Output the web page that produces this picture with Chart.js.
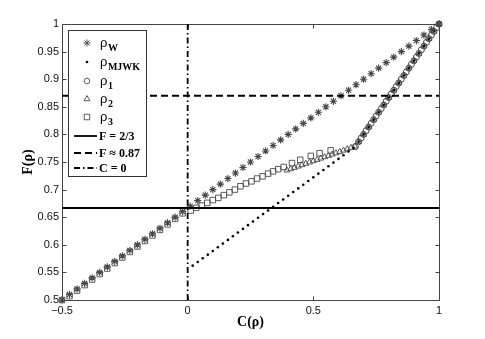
<!DOCTYPE html>
<html>
<head>
<meta charset="utf-8">
<script src="https://cdn.jsdelivr.net/npm/chart.js@4.4.1/dist/chart.umd.min.js"></script>
<style>
  html, body { margin: 0; padding: 0; background: #fff; }
  #wrap { width: 485px; height: 339px; }
</style>
</head>
<body>
<div id="wrap"><canvas id="grafico" width="485" height="339"></canvas></div>
<script>
// rho_W (stars)
const wC = [-0.5, -0.47, -0.44, -0.41, -0.38, -0.35, -0.32, -0.29, -0.26, -0.23, -0.2, -0.17, -0.14, -0.11, -0.08, -0.05, -0.02,
  0.01, 0.04, 0.07, 0.1, 0.13, 0.16, 0.19, 0.22, 0.25, 0.28, 0.31, 0.34, 0.37, 0.4, 0.43, 0.46, 0.49, 0.52, 0.55, 0.58,
  0.61, 0.64, 0.67, 0.7, 0.73, 0.76, 0.79, 0.82, 0.85, 0.88, 0.91, 0.94, 0.97, 1.0];
const wF = [0.5, 0.51, 0.52, 0.53, 0.54, 0.55, 0.56, 0.57, 0.58, 0.59, 0.6, 0.61, 0.62, 0.63, 0.64, 0.65, 0.66,
  0.67, 0.68, 0.69, 0.7, 0.71, 0.72, 0.73, 0.74, 0.75, 0.76, 0.77, 0.78, 0.79, 0.8, 0.81, 0.82, 0.83, 0.84, 0.85, 0.86,
  0.87, 0.88, 0.89, 0.9, 0.91, 0.92, 0.93, 0.94, 0.95, 0.96, 0.97, 0.98, 0.99, 1.0];

// rho_MJWK (dots)
const mC = [0.02, 0.04, 0.06, 0.08, 0.1, 0.12, 0.14, 0.16, 0.18, 0.2, 0.22, 0.24, 0.26, 0.28, 0.3, 0.32, 0.34, 0.36,
  0.38, 0.4, 0.42, 0.44, 0.46, 0.48, 0.5, 0.52, 0.54, 0.56, 0.58, 0.6, 0.62, 0.64, 0.66,
  0.68, 0.7, 0.72, 0.74, 0.76, 0.78, 0.8, 0.82, 0.84, 0.86, 0.88, 0.9, 0.92, 0.94, 0.96, 0.98, 1.0];
const mF = [0.5622, 0.5689, 0.5756, 0.5822, 0.5889, 0.5956, 0.6022, 0.6089, 0.6156, 0.6222, 0.6289, 0.6356, 0.6422,
  0.6489, 0.6556, 0.6622, 0.6689, 0.6756, 0.6822, 0.6889, 0.6956, 0.7022, 0.7089, 0.7156, 0.7222, 0.7289, 0.7356,
  0.7422, 0.7489, 0.7556, 0.7622, 0.7689, 0.7756,
  0.7867, 0.8, 0.8133, 0.8267, 0.84, 0.8533, 0.8667, 0.88, 0.8933, 0.9067, 0.92, 0.9333, 0.9467, 0.96, 0.9733, 0.9867, 1.0];

// rho_1 (circles)
const r1C = [0.667, 0.68, 0.69, 0.7, 0.71, 0.72, 0.73, 0.74, 0.75, 0.76, 0.77, 0.78, 0.79, 0.8, 0.81, 0.82, 0.83,
  0.84, 0.85, 0.86, 0.87, 0.88, 0.89, 0.9, 0.91, 0.92, 0.93, 0.94, 0.95, 0.96, 0.97, 0.98, 0.99, 1.0];
const r1F = [0.7778, 0.7867, 0.7933, 0.8, 0.8067, 0.8133, 0.82, 0.8267, 0.8333, 0.84, 0.8467, 0.8533, 0.86, 0.8667,
  0.8733, 0.88, 0.8867, 0.8933, 0.9, 0.9067, 0.9133, 0.92, 0.9267, 0.9333, 0.94, 0.9467, 0.9533, 0.96, 0.9667,
  0.9733, 0.98, 0.9867, 0.9933, 1.0];

// rho_2 (triangles)
const r2C = [0.395, 0.41, 0.425, 0.44, 0.455, 0.47, 0.485, 0.5, 0.515, 0.53, 0.545, 0.56, 0.575, 0.59, 0.605, 0.62,
  0.635, 0.65, 0.665, 0.68, 0.7, 0.72, 0.74, 0.76, 0.78, 0.8, 0.82, 0.84, 0.86, 0.88, 0.9, 0.92, 0.94, 0.96, 0.98, 1.0];
const r2F = [0.735, 0.7374, 0.7398, 0.7422, 0.7446, 0.747, 0.7494, 0.7518, 0.7542, 0.7566, 0.759, 0.7614, 0.7638,
  0.7662, 0.7686, 0.771, 0.7734, 0.7758, 0.7782, 0.7867, 0.8, 0.8133, 0.8267, 0.84, 0.8533, 0.8667, 0.88, 0.8933,
  0.9067, 0.92, 0.9333, 0.9467, 0.96, 0.9733, 0.9867, 1.0];

// rho_3 (squares)
const r3C = [-0.5, -0.47, -0.44, -0.41, -0.38, -0.35, -0.32, -0.29, -0.26, -0.23, -0.2, -0.17, -0.14, -0.11, -0.08,
  -0.05, -0.02, 0.012, 0.034, 0.056, 0.078, 0.1, 0.122, 0.144, 0.166, 0.188, 0.21, 0.232, 0.254, 0.276, 0.298, 0.32,
  0.34, 0.36, 0.382, 0.415, 0.448, 0.49, 0.525, 0.569];
const r3F = [0.5, 0.507, 0.517, 0.527, 0.537, 0.547, 0.557, 0.567, 0.577, 0.587, 0.597, 0.607, 0.617, 0.627, 0.637,
  0.647, 0.657, 0.662, 0.667, 0.671, 0.676, 0.681, 0.685, 0.69, 0.695, 0.7, 0.706, 0.711, 0.715, 0.72, 0.724, 0.729,
  0.733, 0.737, 0.741, 0.748, 0.754, 0.761, 0.766, 0.771];

// reference lines
const fClasico = 2 / 3;
const fUmbral = 0.87;
const cCero = 0;

// ticks
const xTicks = [-0.5, 0, 0.5, 1];
const yTicks = [0.5, 0.55, 0.6, 0.65, 0.7, 0.75, 0.8, 0.85, 0.9, 0.95, 1];

const subs = ['W', 'MJWK', '1', '2', '3'];
const lineLabels = ['F = 2/3', 'F \u2248 0.87', 'C = 0'];

const gris = '#484848';
const pts = (xs, ys) => xs.map((v, i) => ({ x: v, y: ys[i] }));

function marker(style, r, filled, lw) {
  return {
    showLine: false,
    pointStyle: style,
    pointRadius: r,
    pointBorderWidth: filled ? 0 : lw,
    borderColor: filled ? '#000' : gris,
    backgroundColor: filled ? '#000' : 'rgba(0,0,0,0)',
    clip: false
  };
}

const dashPunto = [6, 3, 1.5, 3];
const dashRaya = [7, 4];

const datasets = [
  Object.assign({ label: 'W', data: pts(wC, wF) }, marker('star', 3.6, false, 1.1)),
  Object.assign({ label: 'MJWK', data: pts(mC, mF) }, marker('circle', 1.3, true, 0)),
  Object.assign({ label: '1', data: pts(r1C, r1F) }, marker('circle', 3, false, 1)),
  Object.assign({ label: '2', data: pts(r2C, r2F) }, marker('triangle', 3.4, false, 0.9)),
  Object.assign({ label: '3', data: pts(r3C, r3F) }, marker('rect', 3.9, false, 0.9)),
  { label: lineLabels[0], data: [{ x: -0.5, y: fClasico }, { x: 1, y: fClasico }], showLine: true, pointRadius: 0,
    borderColor: '#000', borderWidth: 1.8, order: -1 },
  { label: lineLabels[1], data: [{ x: -0.5, y: fUmbral }, { x: 1, y: fUmbral }], showLine: true, pointRadius: 0,
    borderColor: '#000', borderWidth: 1.8, borderDash: dashRaya, order: -1 },
  { label: lineLabels[2], data: [{ x: cCero, y: 0.5 }, { x: cCero, y: 1 }], showLine: true, pointRadius: 0,
    borderColor: '#000', borderWidth: 1.8, borderDash: dashPunto, order: -1 }
];

function dibujarMarca(ctx, style, x, y, r) {
  ctx.beginPath();
  if (style === 'star') {
    for (let k = 0; k < 4; k++) {
      const a = k * Math.PI / 4;
      ctx.moveTo(x - r * Math.cos(a), y - r * Math.sin(a));
      ctx.lineTo(x + r * Math.cos(a), y + r * Math.sin(a));
    }
    ctx.stroke();
  } else if (style === 'dot') {
    ctx.arc(x, y, r, 0, Math.PI * 2);
    ctx.fill();
  } else if (style === 'circle') {
    ctx.arc(x, y, r, 0, Math.PI * 2);
    ctx.stroke();
  } else if (style === 'triangle') {
    ctx.moveTo(x, y - r);
    ctx.lineTo(x + r * 0.866, y + r * 0.5);
    ctx.lineTo(x - r * 0.866, y + r * 0.5);
    ctx.closePath();
    ctx.stroke();
  } else if (style === 'rect') {
    const s = r * 0.707;
    ctx.rect(x - s, y - s, 2 * s, 2 * s);
    ctx.stroke();
  }
}

const marco = {
  id: 'marco',
  beforeDatasetsDraw(chart) {
    const { ctx, chartArea: a, scales: { x, y } } = chart;
    ctx.save();
    ctx.strokeStyle = '#444';
    ctx.lineWidth = 1;
    const l = Math.round(a.left) + 0.5, t = Math.round(a.top) + 0.5;
    const r = Math.round(a.right) + 0.5, b = Math.round(a.bottom) + 0.5;
    ctx.strokeRect(l, t, r - l, b - t);
    ctx.beginPath();
    xTicks.forEach(v => {
      const px = Math.round(x.getPixelForValue(v)) + 0.5;
      ctx.moveTo(px, b); ctx.lineTo(px, b - 4);
      ctx.moveTo(px, t); ctx.lineTo(px, t + 4);
    });
    yTicks.forEach(v => {
      const py = Math.round(y.getPixelForValue(v)) + 0.5;
      ctx.moveTo(l, py); ctx.lineTo(l + 4, py);
      ctx.moveTo(r, py); ctx.lineTo(r - 4, py);
    });
    ctx.stroke();
    ctx.restore();
  }
};

const leyenda = {
  id: 'leyenda',
  afterDraw(chart) {
    const ctx = chart.ctx;
    ctx.save();
    const x0 = 68.5, y0 = 30.5, w = 78, h = 146;
    ctx.fillStyle = '#fff';
    ctx.fillRect(x0, y0, w, h);
    ctx.strokeStyle = '#333';
    ctx.lineWidth = 1;
    ctx.strokeRect(x0, y0, w, h);

    const estilos = ['star', 'dot', 'circle', 'triangle', 'rect'];
    const radios = [3.6, 1.3, 2.8, 3.4, 3.9];
    const filas = [43, 62, 81, 99, 117];
    ctx.textBaseline = 'middle';
    subs.forEach((s, i) => {
      ctx.strokeStyle = gris;
      ctx.fillStyle = '#000';
      ctx.lineWidth = 0.9;
      dibujarMarca(ctx, estilos[i], 87, filas[i], radios[i]);
      ctx.fillStyle = '#000';
      ctx.font = '13px "Liberation Sans"';
      ctx.fillText('\u03c1', 100, filas[i]);
      const ancho = ctx.measureText('\u03c1').width;
      ctx.font = 'bold 10px "Liberation Serif"';
      ctx.fillText(s, 100 + ancho + 0.5, filas[i] + 5);
    });

    const filasL = [136, 153, 168];
    const dashes = [[], dashRaya, dashPunto];
    lineLabels.forEach((s, i) => {
      ctx.strokeStyle = '#000';
      ctx.lineWidth = 1.8;
      ctx.setLineDash(dashes[i]);
      ctx.beginPath();
      ctx.moveTo(74, filasL[i]);
      ctx.lineTo(97, filasL[i]);
      ctx.stroke();
      ctx.setLineDash([]);
      ctx.fillStyle = '#000';
      ctx.font = 'bold 12px "Liberation Serif"';
      ctx.fillText(s, 99, filasL[i] + 0.5);
    });
    ctx.restore();
  }
};

const fmt = v => {
  const s = parseFloat(Number(v).toFixed(2)).toString();
  return v < 0 ? '\u2212' + s.slice(1) : s;
};

new Chart(document.getElementById('grafico'), {
  type: 'scatter',
  data: { datasets },
  options: {
    responsive: false,
    animation: false,
    events: [],
    layout: { padding: { left: 0, right: 46, top: 24, bottom: 0 } },
    plugins: { legend: { display: false }, tooltip: { enabled: false } },
    scales: {
      x: {
        type: 'linear',
        min: -0.5, max: 1,
        afterBuildTicks: s => { s.ticks = xTicks.map(v => ({ value: v })); },
        afterFit: s => { s.height = 39; },
        grid: { display: false, drawTicks: false },
        border: { display: false },
        ticks: { callback: fmt, padding: 4, color: '#111', font: { family: '"Liberation Sans"', size: 11 }, maxRotation: 0 },
        title: { display: true, text: 'C(\u03c1)', color: '#000', padding: { top: 0, bottom: 8 },
          font: { family: '"Liberation Serif"', size: 14, weight: 'bold' } }
      },
      y: {
        type: 'linear',
        min: 0.5, max: 1,
        afterBuildTicks: s => { s.ticks = yTicks.map(v => ({ value: v })); },
        afterFit: s => { s.width = 62; },
        grid: { display: false, drawTicks: false },
        border: { display: false },
        ticks: { callback: fmt, padding: 3, autoSkip: false, color: '#111', font: { family: '"Liberation Sans"', size: 11 } },
        title: { display: true, text: 'F(\u03c1)', color: '#000', padding: { top: 20, bottom: 0 },
          font: { family: '"Liberation Serif"', size: 14, weight: 'bold' } }
      }
    }
  },
  plugins: [marco, leyenda]
});
</script>
</body>
</html>
